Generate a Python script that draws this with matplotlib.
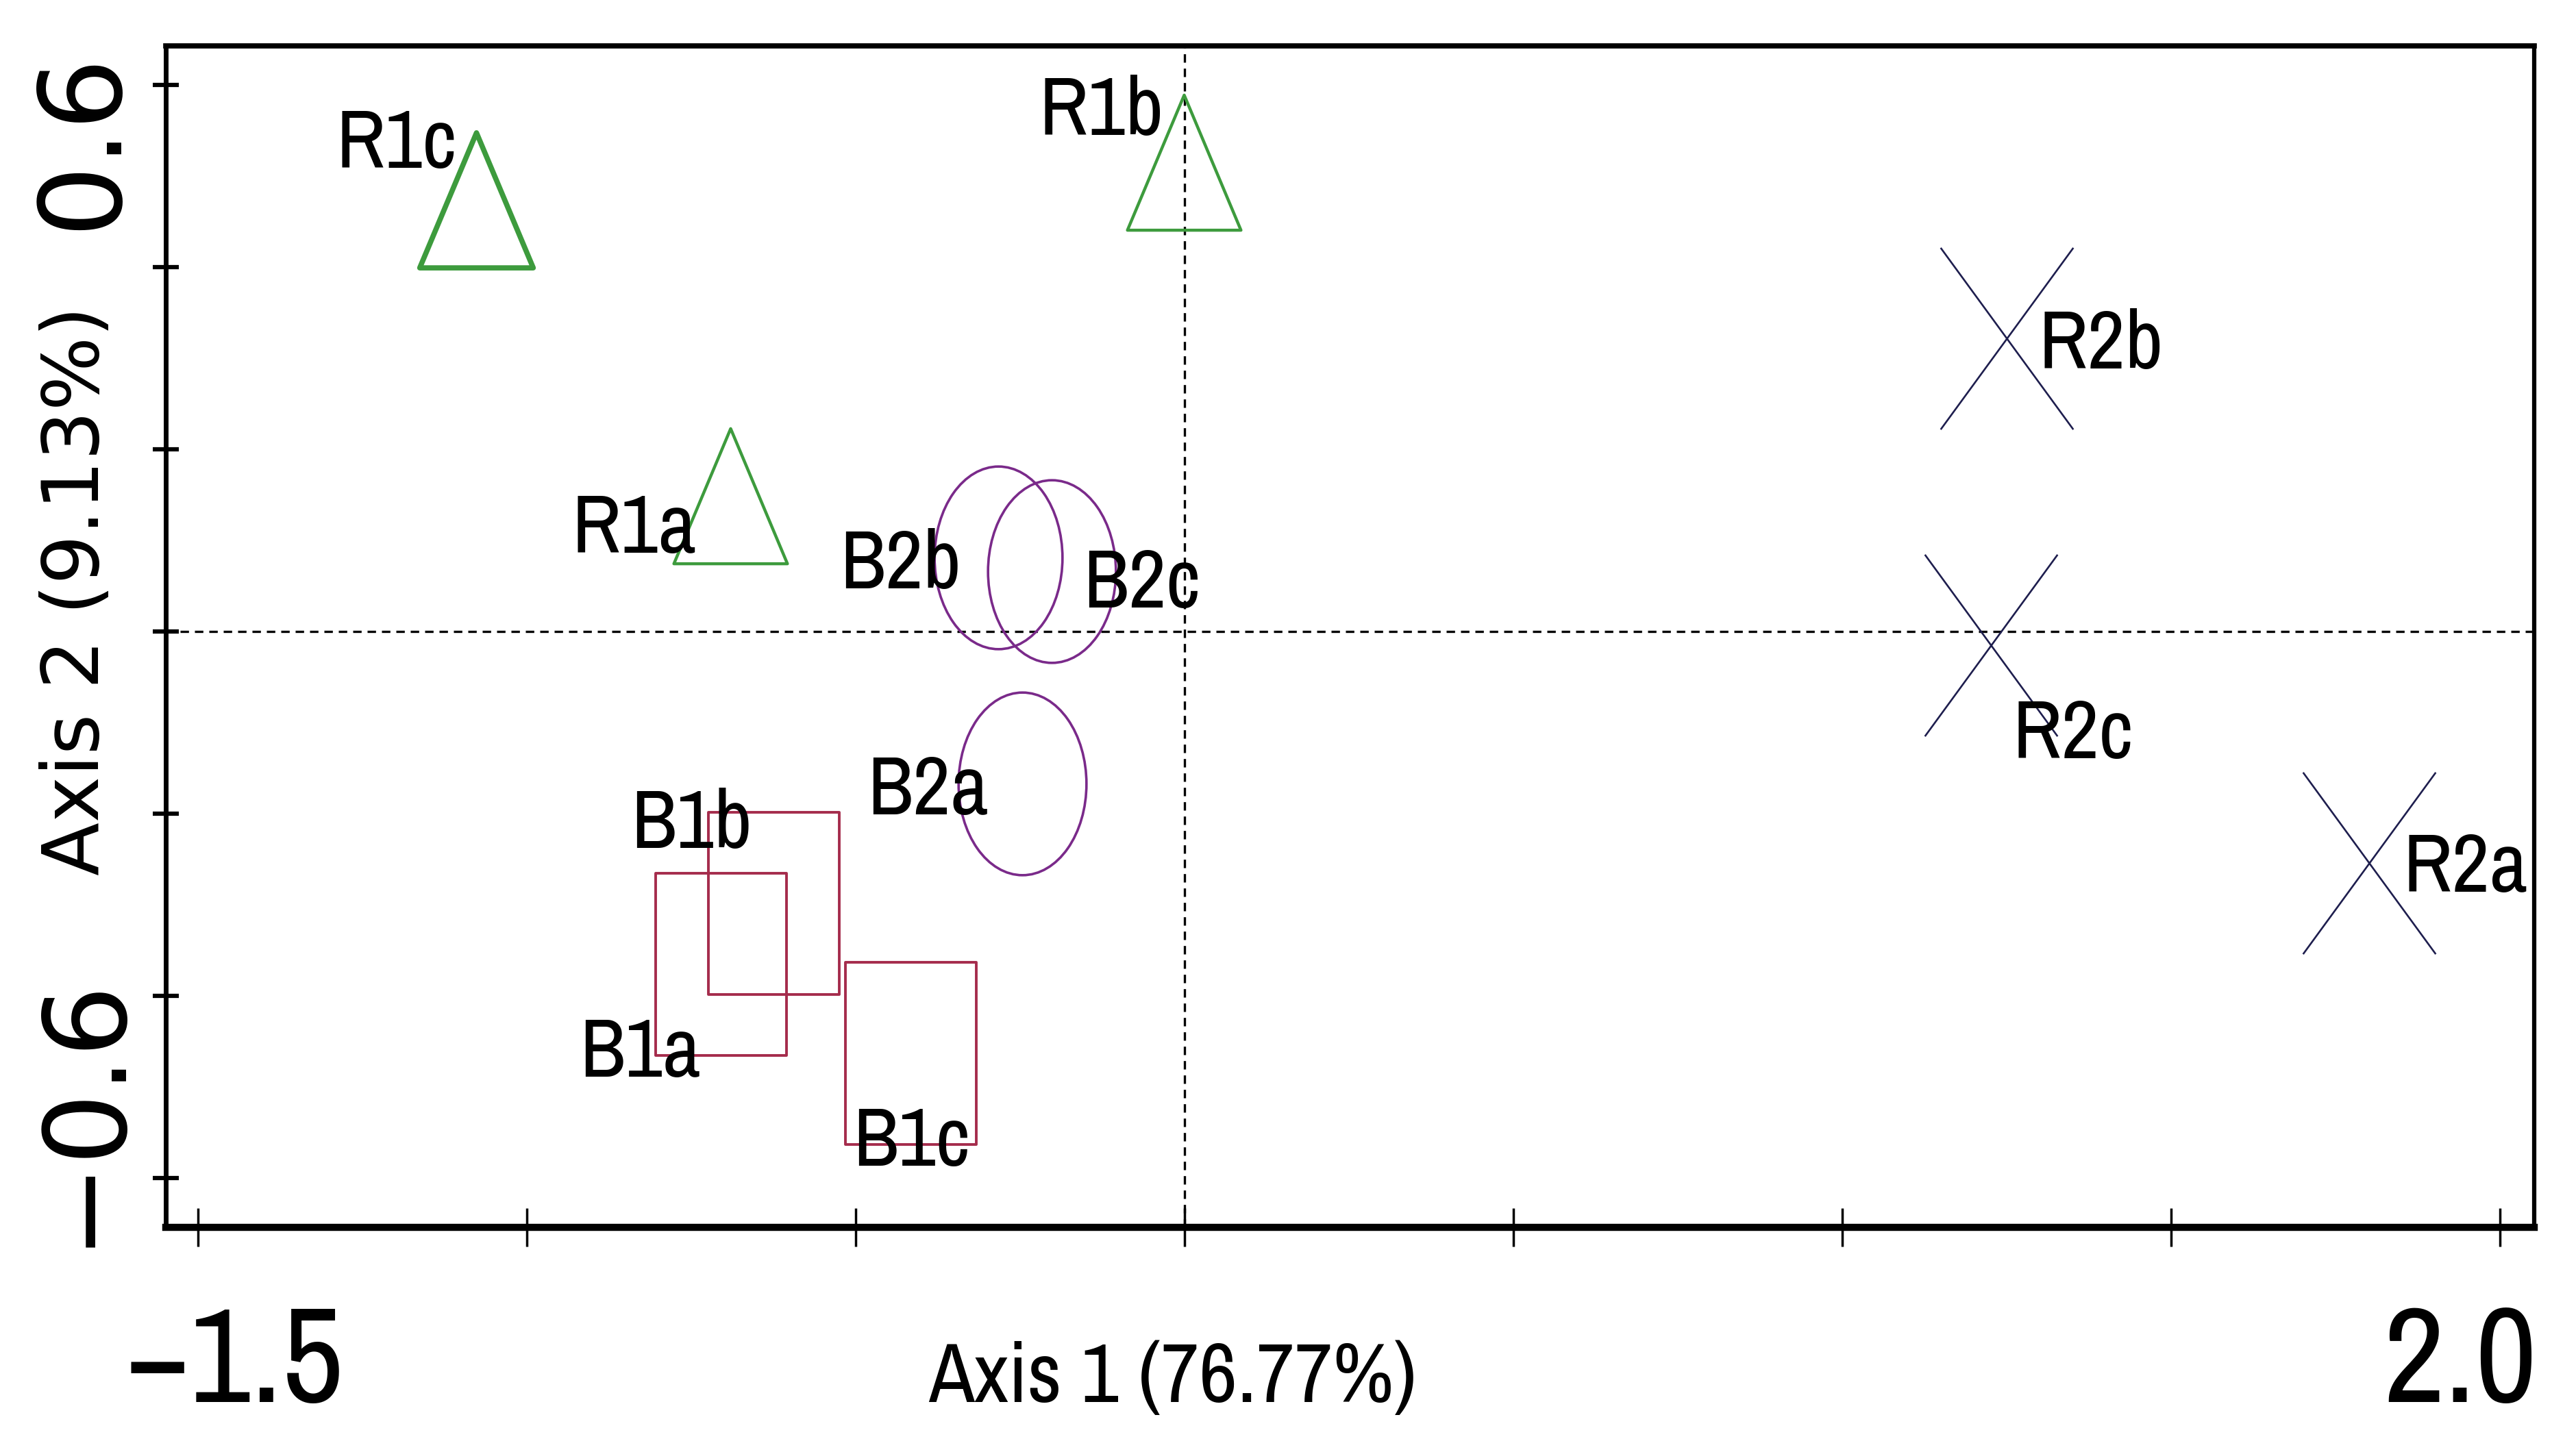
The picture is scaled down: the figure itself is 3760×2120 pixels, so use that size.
import numpy as np
import matplotlib
matplotlib.use("Agg")
import matplotlib.pyplot as plt
from matplotlib.path import Path
from matplotlib.transforms import ScaledTranslation

plt.rcParams['font.family'] = ['Archivo Narrow', 'DejaVu Sans']

# sample scores on the first two ordination axes
names = ["R1a", "R1b", "R1c", "R2a", "R2b", "R2c",
         "B1a", "B1b", "B1c", "B2a", "B2b", "B2c"]
axis1 = [-0.691, -0.001, -1.077, 1.801, 1.250, 1.226,
         -0.705, -0.625, -0.417, -0.247, -0.283, -0.202]
axis2 = [0.149, 0.515, 0.474, -0.254, 0.322, -0.015,
         -0.365, -0.298, -0.463, -0.167, 0.081, 0.066]
groups = ["R1", "R1", "R1", "R2", "R2", "R2",
          "B1", "B1", "B1", "B2", "B2", "B2"]

x_ticks = [-1.5, -1.0, -0.5, 0.0, 0.5, 1.0, 1.5, 2.0]
x_ticklabels = ["\u22121.5", "", "", "", "", "", "", "2.0"]
y_ticks = [0.6, 0.4, 0.2, 0.0, -0.2, -0.4, -0.6]
y_ticklabels = ["0.6", "", "", "", "", "", "\u22120.6"]
x_title = "Axis 1 (76.77%)"
y_title = "Axis 2 (9.13%)"

# label offsets from the symbol (points), same order as names
label_off = [(-101, -60), (-87, 29), (-84, 34), (101, -30), (99, -32), (86, -119),
             (-85, -118), (-86, 58), (1, -118), (-99, -32), (-103, -32), (95, -38)]

# symbols, stretched like the original (taller than wide)
tri = Path([(0, 1), (-0.84, -1), (0.84, -1), (0, 1)], closed=True)
sq = Path([(-0.72, -1), (0.72, -1), (0.72, 1), (-0.72, 1), (-0.72, -1)], closed=True)
circ = Path(Path.unit_circle().vertices * [0.70, 1.0], Path.unit_circle().codes)
cross = Path([(-0.73, -1), (0.73, 1), (-0.73, 1), (0.73, -1)],
             [Path.MOVETO, Path.LINETO, Path.MOVETO, Path.LINETO])

style = {
    "R1": dict(marker=tri, ms=142, color="#3d9b3d", mew=3.2),
    "R2": dict(marker=cross, ms=191, color="#1e1e4e", mew=1.9),
    "B1": dict(marker=sq, ms=191, color="#a52c4c", mew=2.8),
    "B2": dict(marker=circ, ms=192, color="#7a2a8a", mew=2.6),
}
heavy = {"R1c": 5.5}

fig = plt.figure(figsize=(37.6, 21.2), dpi=100)
ax = fig.add_axes([242 / 3760, 1 - 1792 / 2120, 3457 / 3760, 1725 / 2120])

ax.axhline(0, color="black", lw=2.4, ls=(0, (3.7, 2.6)), zorder=1)
ax.axvline(0, color="black", lw=2.4, ls=(0, (3.7, 2.6)), zorder=1)

for n, x, y, g, off in zip(names, axis1, axis2, groups, label_off):
    st = style[g]
    ax.plot([x], [y], linestyle="none", marker=st["marker"], markersize=st["ms"],
            markerfacecolor="none", markeredgecolor=st["color"],
            markeredgewidth=heavy.get(n, st["mew"]), zorder=2)
    ax.annotate(n, (x, y), xytext=off, textcoords="offset points",
                ha="center", va="baseline", fontsize=87, color="black", zorder=3)

ax.set_xlim(-1.549, 2.052)
ax.set_ylim(-0.654, 0.643)

ax.set_xticks(x_ticks)
ax.set_xticklabels(x_ticklabels, fontsize=142)
ax.set_yticks(y_ticks)
ax.set_yticklabels(y_ticklabels, fontsize=119, family="DejaVu Sans",
                   rotation=90, ha="center", va="center")

ax.tick_params(axis="x", direction="inout", length=41, width=2.5, pad=61)
ax.tick_params(axis="y", direction="inout", length=27, width=4.5, pad=73)

# nudge the end labels like the original
x_shift = {0: 53, 7: -58}
for i, t in enumerate(ax.xaxis.get_major_ticks()):
    if i in x_shift:
        t.label1.set_transform(t.label1.get_transform() +
                               ScaledTranslation(x_shift[i] / 100, 0, fig.dpi_scale_trans))
y_shift = {0: -80, 6: 100}
for i, t in enumerate(ax.yaxis.get_major_ticks()):
    if i in y_shift:
        t.label1.set_transform(t.label1.get_transform() +
                               ScaledTranslation(0, y_shift[i] / 100, fig.dpi_scale_trans))

ax.set_xlabel(x_title, fontsize=88)
ax.xaxis.set_label_coords(0.425, -0.0965)
ax.set_ylabel(y_title, fontsize=82, family="DejaVu Sans")
ax.yaxis.set_label_coords(-0.0215, 0.539)

ax.spines["left"].set_linewidth(5)
ax.spines["bottom"].set_linewidth(7.5)
ax.spines["top"].set_linewidth(5.5)
ax.spines["right"].set_linewidth(4.5)

fig.savefig("out.png", dpi=100)
